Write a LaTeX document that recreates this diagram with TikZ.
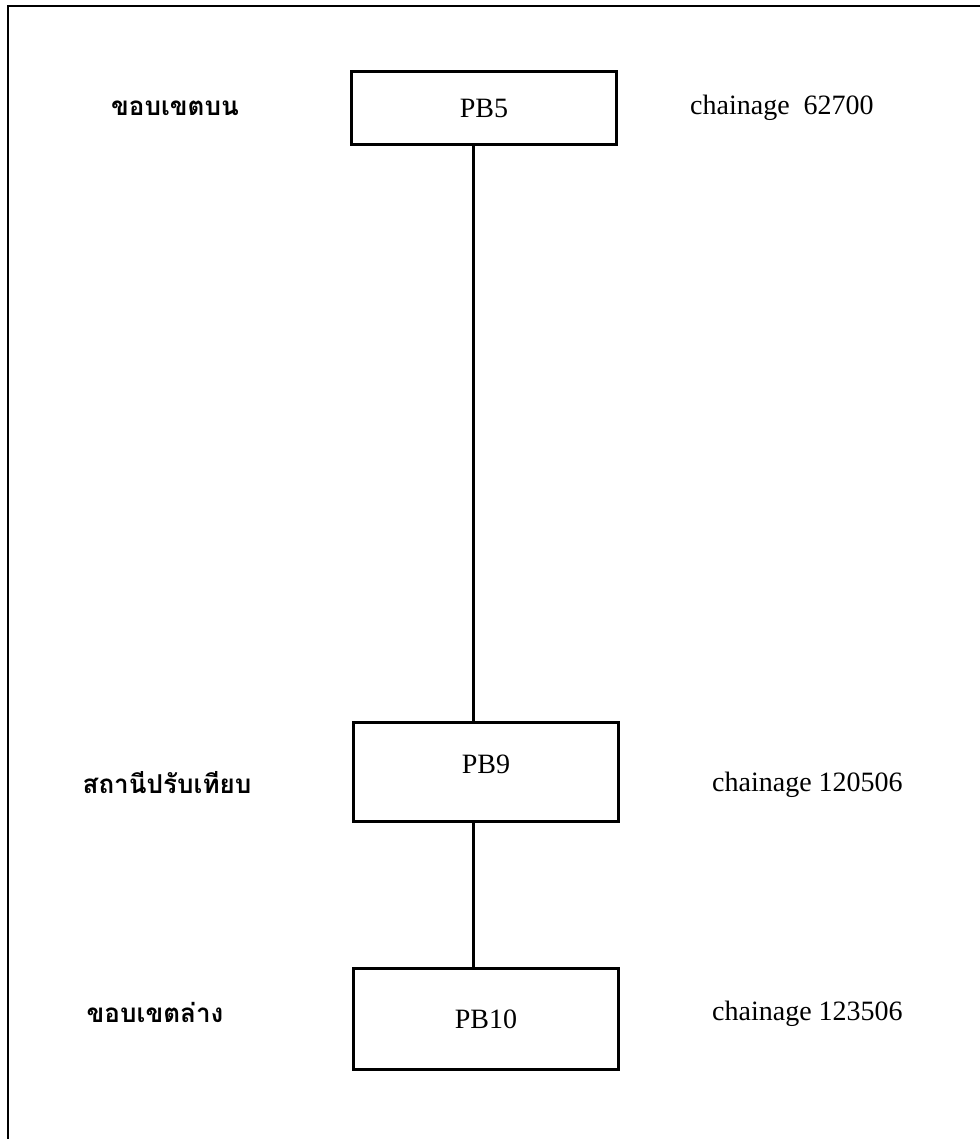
\documentclass[tikz,border=0pt]{standalone}
\usepackage{fontspec}
\setmainfont{Liberation Serif}
\newfontfamily\thaifont[Script=Thai]{Loma}
\usetikzlibrary{positioning}

\begin{document}
\begin{tikzpicture}[
    x=1pt, y=-1pt,
    font=\fontsize{28}{32}\selectfont,
    pbbox/.style={
        draw, rectangle, line width=3.8pt, minimum width=265pt, inner sep=0pt, align=center
    },
    thailabel/.style={font=\fontsize{26}{32}\selectfont\thaifont\bfseries, inner sep=0pt},
    chainlabel/.style={anchor=west, inner sep=0pt},
    link/.style={draw, line width=3pt, -},
    frame/.style={draw, line width=2.5pt}
]

\useasboundingbox (0,0) rectangle (979,1139);

% outer frame (cut at right and bottom)
\draw[frame] (8,1150) -- (8,6) -- (990,6);

% ==========================================
% BOXES
% ==========================================

\node[pbbox, minimum height=73pt] (PB5) at (484, 108) {PB5};
\node[pbbox, minimum height=99pt, text depth=15pt] (PB9) at (486, 772) {PB9};
\node[pbbox, minimum height=101pt] (PB10) at (486, 1019) {PB10};

\draw[link] ([xshift=-11pt]PB5.south) -- ([xshift=-11pt]PB5.south |- PB9.north);
\draw[link] ([xshift=-13pt]PB9.south) -- ([xshift=-13pt]PB9.south |- PB10.north);

% ==========================================
% LEFT LABELS
% ==========================================

\node[thailabel] (TopLabel) at (175, 108) {ขอบเขตบน};
\node[thailabel] (MidLabel) at (167, 783) {สถานีปรับเทียบ};
\node[thailabel] (LowLabel) at (155, 1012) {ขอบเขตล่าง};

% ==========================================
% RIGHT LABELS
% ==========================================

\node[chainlabel] (TopChain) at (690, 108) {chainage\ \ 62700};
\node[chainlabel] (MidChain) at (712, 785) {chainage 120506};
\node[chainlabel] (LowChain) at (712, 1014) {chainage 123506};

\end{tikzpicture}
\end{document}
